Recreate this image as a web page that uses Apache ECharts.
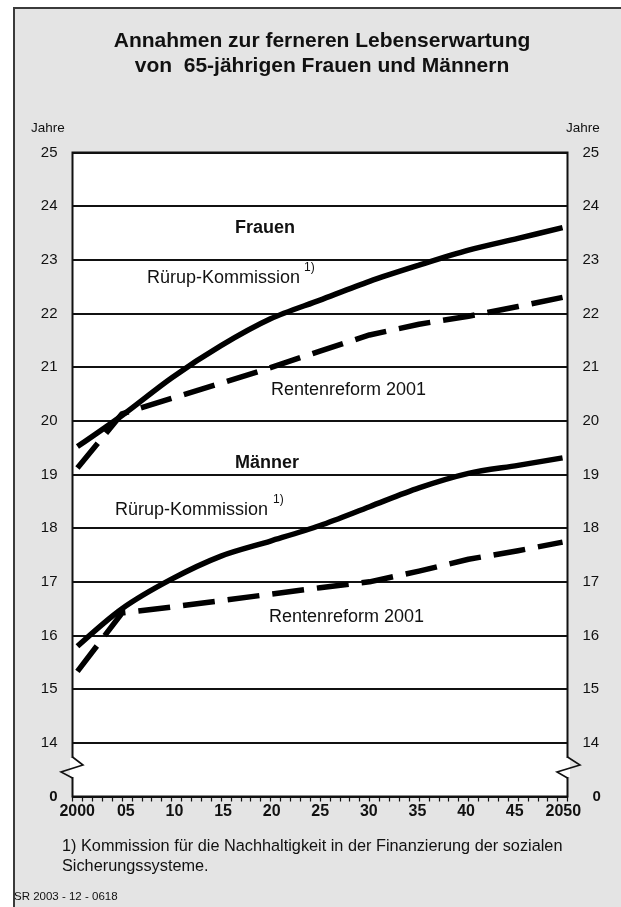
<!DOCTYPE html>
<html>
<head>
<meta charset="utf-8">
<script src="https://cdn.jsdelivr.net/npm/echarts@6/dist/echarts.min.js"></script>
<style>
  html, body { margin:0; padding:0; background:#fff; overflow:hidden; }
  #panel { position:absolute; left:13px; top:7px; width:700px; height:1000px; background:#e4e4e4; border-left:2px solid #3a3a3a; border-top:2px solid #3a3a3a; }
  #chart { position:absolute; left:0; top:0; width:621px; height:907px; }
</style>
</head>
<body>
<div id="panel"></div>
<div id="chart"></div>
<script>
// ---- data ----
const title1 = 'Annahmen zur ferneren Lebenserwartung';
const title2 = 'von  65-jährigen Frauen und Männern';
const yUnit = 'Jahre';
const xTickLabels = { 2000: '2000', 2005: '05', 2010: '10', 2015: '15', 2020: '20', 2025: '25', 2030: '30', 2035: '35', 2040: '40', 2045: '45', 2050: '2050' };

const years = [2000.5, 2005, 2010, 2015, 2020, 2025, 2030, 2035, 2040, 2045, 2049.5];
const frauenRuerup = [19.52, 20.1, 20.8, 21.4, 21.9, 22.25, 22.6, 22.9, 23.18, 23.4, 23.6];
const frauenReform = [19.12, 20.13, 20.42, 20.7, 20.99, 21.3, 21.6, 21.8, 21.95, 22.13, 22.3];
const maennerRuerup = [15.8, 16.5, 17.05, 17.48, 17.76, 18.05, 18.4, 18.75, 19.02, 19.17, 19.31];
const maennerReform = [15.33, 16.42, 16.53, 16.65, 16.77, 16.89, 17.0, 17.2, 17.42, 17.58, 17.74];

const footnote1 = '1) Kommission für die Nachhaltigkeit in der Finanzierung der sozialen';
const footnote2 = 'Sicherungssysteme.';
const source = 'SR 2003 - 12 - 0618';

const pairs = (xs, ys) => xs.map((x, i) => [x, ys[i]]);

const FONT = '"Liberation Sans", Arial, Helvetica, sans-serif';
const chart = echarts.init(document.getElementById('chart'), null, { renderer: 'canvas' });

const lineSeries = (name, data, dashed) => ({
  name, type: 'line', xAxisIndex: 0, yAxisIndex: 0, data,
  symbol: 'none', showSymbol: false, smooth: dashed ? false : 0.3,
  lineStyle: { color: '#000', width: 5.5, cap: 'butt', join: 'round', type: dashed ? [32, 13] : 'solid' },
  emphasis: { disabled: true }, animation: false
});

const txt = (x, y, text, size, bold, align) => ({
  type: 'text', x, y, z: 100,
  style: { text, fill: '#111', font: (bold ? 'bold ' : '') + size + 'px ' + FONT, textAlign: align || 'left', textVerticalAlign: 'middle' }
});

const option = {
  backgroundColor: 'transparent',
  animation: false,
  textStyle: { fontFamily: FONT },
  grid: [
    { left: 72.5, top: 152.5, width: 495, height: 644, show: true, backgroundColor: '#fff', borderColor: '#111', borderWidth: 2 },
    { left: 77.2, top: 152.5, width: 486.1, height: 644, show: false }
  ],
  xAxis: [
    { gridIndex: 0, type: 'value', min: 2000, max: 2050, interval: 1,
      axisLine: { show: false }, splitLine: { show: false },
      axisTick: { show: true, length: 5, lineStyle: { color: '#111', width: 1.2 } },
      axisLabel: { show: false } },
    { gridIndex: 1, type: 'value', min: 2000, max: 2050, interval: 5,
      axisLine: { show: false }, splitLine: { show: false }, axisTick: { show: false },
      axisLabel: { margin: 7, fontSize: 16, fontWeight: 'bold', color: '#111', formatter: v => xTickLabels[v] || '' } }
  ],
  yAxis: [
    { gridIndex: 0, type: 'value', position: 'left', min: 13, max: 25, interval: 1,
      axisLine: { show: false }, axisTick: { show: false },
      splitLine: { show: true, lineStyle: { color: '#111', width: 2 } },
      axisLabel: { margin: 15, fontSize: 15, color: '#111',
        formatter: v => v === 13 ? '{z|0}' : String(v),
        rich: { z: { fontWeight: 'bold', fontSize: 15, color: '#111' } } } },
    { gridIndex: 0, type: 'value', position: 'right', min: 13, max: 25, interval: 1,
      axisLine: { show: false }, axisTick: { show: false }, splitLine: { show: false },
      axisLabel: { margin: 15, fontSize: 15, color: '#111',
        formatter: v => v === 13 ? '{z|0}' : String(v),
        rich: { z: { fontWeight: 'bold', fontSize: 15, color: '#111', padding: [0, 0, 0, 10] } } } },
    { gridIndex: 1, type: 'value', min: 13, max: 25, show: false }
  ],
  series: [
    lineSeries('Frauen Rentenreform 2001', pairs(years, frauenReform), true),
    lineSeries('Männer Rentenreform 2001', pairs(years, maennerReform), true),
    lineSeries('Frauen Rürup-Kommission', pairs(years, frauenRuerup), false),
    lineSeries('Männer Rürup-Kommission', pairs(years, maennerRuerup), false)
  ],
  graphic: [
    txt(322, 41, title1, 21, true, 'center'),
    txt(322, 66, title2, 21, true, 'center'),
    txt(31, 128, yUnit, 13.5, false),
    txt(566, 128, yUnit, 13.5, false),
    txt(235, 228, 'Frauen', 18, true),
    txt(147, 278, 'Rürup-Kommission', 18, false),
    txt(304, 268, '1)', 12, false),
    txt(271, 390, 'Rentenreform 2001', 18, false),
    txt(235, 463, 'Männer', 18, true),
    txt(115, 510, 'Rürup-Kommission', 18, false),
    txt(273, 500, '1)', 12, false),
    txt(269, 617, 'Rentenreform 2001', 18, false),
    txt(62, 847, footnote1, 16.3, false),
    txt(62, 867, footnote2, 16.3, false),
    txt(14, 897, source, 11.5, false),
    // axis break marks
    { type: 'rect', z: 100, shape: { x: 70, y: 758, width: 5, height: 19 }, style: { fill: '#fff' } },
    { type: 'rect', z: 100, shape: { x: 565, y: 758, width: 5, height: 19 }, style: { fill: '#fff' } },
    { type: 'polyline', z: 101, shape: { points: [[72.5, 757], [83, 765], [61, 772], [72.5, 778]] }, style: { stroke: '#111', lineWidth: 1.6, fill: null } },
    { type: 'polyline', z: 101, shape: { points: [[567.5, 757], [580, 765], [557, 772], [567.5, 778]] }, style: { stroke: '#111', lineWidth: 1.6, fill: null } }
  ]
};
chart.setOption(option);
</script>
</body>
</html>
